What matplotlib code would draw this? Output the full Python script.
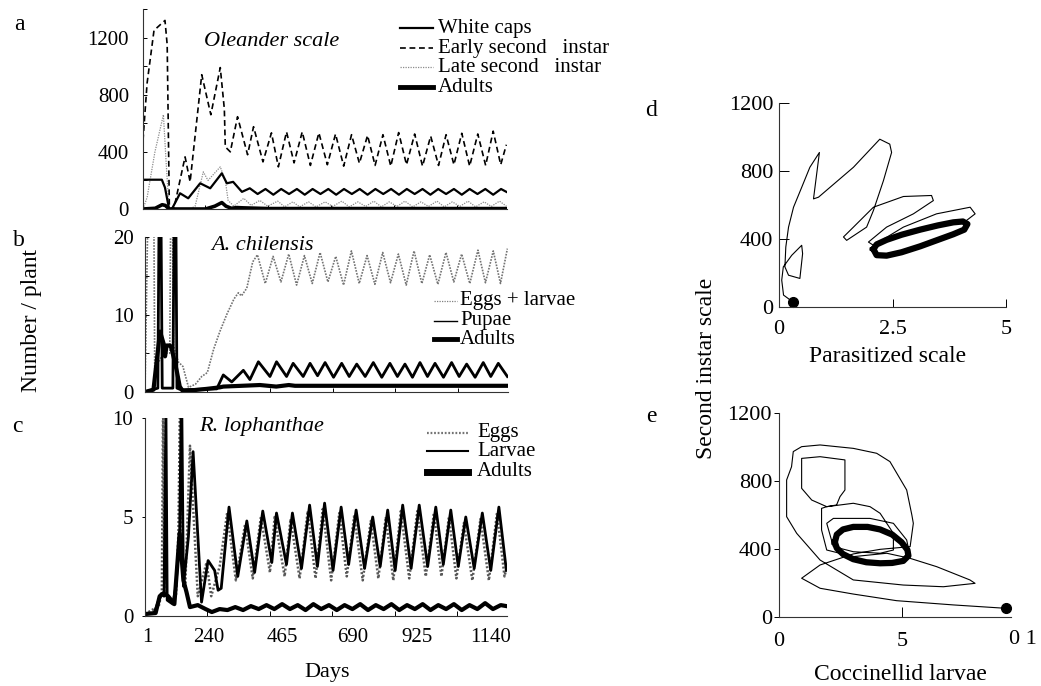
import matplotlib
matplotlib.use("Agg")
import matplotlib.pyplot as plt
from matplotlib.lines import Line2D

plt.rcParams['font.family'] = ['Liberation Serif', 'DejaVu Serif']

W, H = 1041, 686

# ---- a: oleander scale (number / plant by day) ----
a_days_wc = [1, 61, 71, 84, 93, 119, 145, 183, 215, 252, 268, 288, 316,
             341, 366, 391, 416, 441, 466, 491, 516, 541, 566, 591, 616, 641,
             666, 691, 716, 741, 766, 791, 816, 841, 866, 891, 916, 941, 966,
             991, 1016, 1041, 1066, 1091, 1116, 1141, 1158]
a_wc = [205, 205, 150, 0, 0, 110, 75, 180, 145, 250, 180, 190, 120,
        145, 105, 140, 100, 140, 105, 140, 100, 140, 105, 140, 100, 140,
        105, 140, 100, 140, 105, 140, 100, 140, 105, 140, 100, 140, 105,
        140, 100, 140, 105, 140, 100, 140, 120]

a_days_e2 = [1, 14, 36, 61, 71, 78, 85, 100, 135, 151, 188, 217, 247, 260,
             263, 279, 302, 334, 353, 383, 410, 432, 458, 482, 508, 534, 561,
             588, 614, 640, 665, 690, 716, 740, 765, 790, 815, 840, 866, 891,
             917, 942, 966, 991, 1016, 1041, 1067, 1092, 1116, 1140, 1158]
a_e2 = [480, 880, 1250, 1300, 1320, 1150, 0, 10, 365, 190, 940, 660, 990, 700,
        435, 400, 646, 380, 576, 330, 533, 295, 540, 323, 540, 305, 533,
        310, 525, 300, 520, 320, 515, 305, 520, 300, 535, 310, 525, 300,
        510, 305, 520, 310, 530, 300, 525, 305, 545, 310, 450]

a_days_l2 = [1, 14, 39, 66, 74, 84, 151, 167, 193, 208, 247, 263, 272,
             290, 322, 345, 373, 398, 430, 452, 478, 500, 528, 552, 581, 605,
             634, 658, 685, 710, 736, 760, 785, 810, 835, 860, 886, 910, 937,
             960, 986, 1010, 1036, 1060, 1087, 1110, 1136, 1158]
a_l2 = [0, 80, 400, 660, 350, 0, 0, 20, 260, 200, 295, 200, 60,
        20, 75, 25, 60, 20, 55, 15, 50, 15, 50, 15, 50, 18,
        55, 15, 50, 18, 55, 15, 50, 18, 55, 15, 50, 18, 55,
        15, 50, 18, 55, 15, 50, 18, 55, 20]

a_days_ad = [1, 40, 62, 72, 84, 200, 230, 252, 265, 282, 300, 320, 400, 1158]
a_ad = [0, 5, 30, 25, 0, 0, 20, 45, 20, 5, 10, 8, 3, 3]

# ---- b: A. chilensis ----
b_days_el = [1, 17, 27, 32, 60, 80, 86, 92, 107, 122, 140, 162, 182, 200, 220,
             240, 262, 285, 299, 309, 326, 345, 360, 385, 410, 435, 460, 485,
             510, 535, 560, 585, 610, 635, 660, 685, 710, 735, 760, 785, 810,
             835, 860, 885, 910, 936, 962, 987, 1012, 1038, 1064, 1088, 1113,
             1136, 1158]
b_el = [0.3, 40, 40, 3, 5, 5, 40, 6, 3.9, 3.3, 0.6, 1.0, 2.0, 2.5, 5.5,
        7.8, 10.0, 12.0, 12.8, 12.4, 13.4, 16.8, 17.7, 14.0, 17.5, 14.2, 17.8, 13.8,
        17.6, 14.0, 18.0, 14.2, 17.5, 13.8, 18.2, 14.0, 17.6, 13.9, 18.0, 14.1, 17.8,
        13.8, 18.2, 14.0, 17.7, 13.9, 18.0, 14.2, 17.8, 14.0, 18.3, 14.1, 18.2,
        14.0, 18.5]

b_days_pu = [1, 42, 49, 56, 90, 97, 103, 115, 230, 251, 278, 315, 336, 363,
             400, 421, 453, 474, 506, 528, 552, 576, 603, 629, 653, 677, 704,
             730, 757, 783, 807, 831, 855, 879, 903, 927, 954, 980, 1004, 1028,
             1055, 1081, 1105, 1129, 1158]
b_pu = [0, 0.5, 40, 0.5, 0.5, 40, 0.5, 0.3, 0.4, 2.2, 1.3, 2.8, 1.6, 3.9,
        2.0, 3.9, 2.0, 3.7, 2.0, 3.7, 2.1, 3.8, 1.9, 3.7, 2.0, 3.6, 2.0,
        3.8, 1.9, 3.7, 2.0, 3.6, 1.9, 3.8, 2.0, 3.7, 1.9, 3.8, 2.0, 3.6,
        1.9, 3.8, 2.0, 3.7, 2.0]

b_days_ad = [1, 28, 49, 60, 65, 70, 81, 86, 102, 112, 122, 197, 240, 251,
             368, 420, 460, 480, 1158]
b_ad = [0, 0.3, 7.8, 6.3, 4.6, 6.0, 6.0, 5.6, 2.8, 0.7, 0.1, 0.4, 0.6, 0.7,
        0.9, 0.7, 0.9, 0.8, 0.8]

# ---- c: R. lophanthae ----
c_days_eg = [1, 45, 55, 59, 63, 85, 100, 108, 113, 120, 130, 145, 170, 198,
             213, 240, 264, 292, 321, 346, 372, 401, 416, 448, 467, 496, 522,
             547, 570, 597, 623, 647, 671, 698, 724, 748, 772, 796, 820, 847,
             873, 900, 926, 950, 974, 998, 1022, 1049, 1075, 1102, 1128, 1152,
             1158]
c_eg = [0.1, 0.5, 1.2, 11, 1.2, 0.8, 1.0, 4.2, 11, 3.0, 1.5, 8.6, 1.0, 2.7,
        1.0, 2.5, 5.2, 1.8, 4.6, 1.9, 5.0, 2.2, 5.0, 2.0, 4.9, 1.9, 5.3,
        1.9, 5.4, 1.8, 5.2, 2.0, 5.1, 1.8, 4.8, 1.9, 5.0, 1.8, 5.3, 1.9,
        5.3, 2.0, 5.2, 2.0, 5.0, 1.9, 4.7, 1.8, 4.9, 1.8, 5.2, 2.0,
        2.4]

c_days_la = [1, 30, 52, 62, 68, 72, 90, 100, 112, 118, 124, 140, 155, 182,
             203, 224, 235, 245, 270, 298, 327, 352, 378, 407, 422, 454, 473,
             502, 528, 553, 576, 603, 629, 653, 677, 704, 730, 754, 778, 802,
             826, 853, 879, 906, 932, 956, 980, 1004, 1028, 1055, 1081, 1108,
             1134, 1158]
c_la = [0.1, 0.15, 1.1, 1.0, 10.5, 0.8, 0.6, 1.5, 4.2, 12, 1.5, 4.0, 8.3, 0.7,
        2.8, 2.3, 1.3, 1.4, 5.5, 2.0, 4.8, 2.2, 5.3, 2.7, 5.2, 2.6, 5.2,
        2.4, 5.6, 2.5, 5.7, 2.3, 5.5, 2.6, 5.35, 2.4, 5.0, 2.5, 5.35, 2.3,
        5.6, 2.4, 5.6, 2.5, 5.5, 2.6, 5.35, 2.5, 5.0, 2.4, 5.2, 2.3,
        5.5, 2.3]

c_days_ad = [1, 35, 48, 60, 75, 95, 112, 124, 134, 145, 170, 195, 215,
             240, 265, 290, 315, 340, 365, 390, 415, 440, 465, 490, 515, 540,
             565, 590, 615, 640, 665, 690, 715, 740, 765, 790, 815, 840, 865,
             890, 915, 940, 965, 990, 1015, 1040, 1065, 1090, 1115, 1140, 1158]
c_ad = [0.1, 0.15, 1.0, 1.15, 1.0, 0.6, 4.2, 1.8, 1.2, 0.45, 0.55, 0.35, 0.2,
        0.35, 0.3, 0.45, 0.3, 0.5, 0.35, 0.55, 0.35, 0.6, 0.35, 0.55, 0.3, 0.6,
        0.35, 0.55, 0.3, 0.55, 0.35, 0.6, 0.3, 0.55, 0.35, 0.6, 0.3, 0.55, 0.35,
        0.6, 0.3, 0.55, 0.35, 0.6, 0.3, 0.55, 0.35, 0.65, 0.35, 0.55, 0.5]

day_ticks = [200, 400, 600, 800, 1000]
day_label_pos = [7, 205, 442, 665, 873, 1109]
day_labels = ['1', '240', '465', '690', '925', '1140']

# ---- d: parasitized scale vs second instar scale ----
d_path_x = [0.30, 0.10, 0.06, 0.095, 0.28, 0.50, 0.52, 0.46, 0.21, 0.13, 0.15,
            0.21, 0.32, 0.50, 0.68, 0.89, 0.76, 0.87, 1.64, 2.22, 2.44, 2.48,
            2.30, 2.08, 1.93, 1.49, 1.42, 1.64, 2.08, 2.74, 3.36, 3.40, 2.96,
            2.37, 1.97, 2.08, 2.74, 3.47, 4.21, 4.32, 4.13]
d_path_y = [31, 70, 158, 236, 304, 363, 314, 168, 187, 236, 353,
            470, 587, 704, 822, 909, 636, 646, 822, 987, 958, 909,
            743, 568, 470, 392, 412, 470, 587, 650, 656, 626, 548,
            470, 382, 363, 470, 548, 587, 548, 509]
d_cycle_x = [2.08, 2.15, 2.37, 2.70, 3.11, 3.50, 3.84, 4.05, 4.15, 4.08, 3.84,
             3.50, 3.11, 2.70, 2.37, 2.15, 2.08]
d_cycle_y = [340, 368, 395, 425, 455, 480, 498, 503, 488, 455, 428,
             395, 357, 322, 302, 305, 340]

# ---- e: coccinellid larvae vs second instar scale ----
e_path_x = [9.23, 7.09, 4.78, 3.02, 1.67, 0.92, 1.67, 3.02, 4.11, 5.33, 5.46,
            5.40, 5.19, 4.51, 3.97, 3.02, 1.67, 0.92, 0.58, 0.51, 0.31, 0.31,
            0.72, 1.67, 3.02, 5.05, 6.68, 7.97, 7.76, 6.41, 5.33, 4.38, 3.02,
            1.94, 1.73, 1.73, 1.94, 2.34, 2.48, 2.68, 2.68, 1.67, 0.92, 0.92,
            1.33, 1.94, 3.02, 3.70, 4.11, 4.65, 4.65, 4.11, 3.02, 2.21, 1.94,
            2.21, 3.70, 4.65, 5.19, 5.33]
e_path_y = [51, 71, 96, 135, 169, 228, 306, 371, 398, 414, 551,
            600, 747, 914, 963, 992, 1012, 1002, 973, 884, 806, 590,
            492, 335, 218, 188, 178, 198, 218, 296, 345, 375, 355,
            394, 512, 639, 649, 659, 708, 747, 924, 943, 933, 757,
            688, 649, 669, 649, 610, 492, 394, 375, 384, 414, 551,
            580, 580, 551, 453, 355]
e_cycle_x = [2.27, 2.35, 2.60, 3.02, 3.60, 4.11, 4.60, 4.98, 5.22, 5.26, 5.05,
             4.60, 4.11, 3.55, 3.02, 2.60, 2.35, 2.27]
e_cycle_y = [440, 485, 515, 530, 530, 515, 485, 440, 395, 360, 330,
             318, 316, 322, 340, 370, 405, 440]


fig = plt.figure(figsize=(W / 100, H / 100), dpi=100)


def box(l, t, r, b):
    return [l / W, 1 - b / H, (r - l) / W, (b - t) / H]


def frame(ax):
    ax.spines['top'].set_visible(False)
    ax.spines['right'].set_visible(False)
    for s in ('left', 'bottom'):
        ax.spines[s].set_linewidth(0.8)
        ax.spines[s].set_color('0.2')
    ax.patch.set_alpha(0)


def ftext(x, y, s, **kw):
    kw.setdefault('ha', 'center')
    kw.setdefault('va', 'center')
    fig.text(x / W, 1 - y / H, s, **kw)


def key(x0, x1, y, label, tx, size, **style):
    fig.add_artist(Line2D([x0 / W, x1 / W], [1 - y / H, 1 - y / H],
                          transform=fig.transFigure, **style))
    ftext(tx, y, label, ha='left', fontsize=size)


# panel a
ax_a = fig.add_axes(box(143, 9, 507, 209))
frame(ax_a)
ax_a.plot(a_days_l2, a_l2, color='0.55', lw=0.9, ls=(0, (1, 1)))
ax_a.plot(a_days_e2, a_e2, color='k', lw=1.2, ls=(0, (3.5, 2.2)))
ax_a.plot(a_days_ad, a_ad, color='k', lw=2.6)
ax_a.plot(a_days_wc, a_wc, color='k', lw=1.6)
ax_a.set_xlim(1, 1160)
ax_a.set_ylim(0, 1400)
ax_a.set_yticks([0, 400, 800, 1200])
ax_a.set_yticks(range(0, 1401, 200), minor=True)
ax_a.set_xticks([])
ax_a.set_xticks(day_ticks, minor=True)
ax_a.tick_params(which='both', direction='in', length=3, width=0.7,
                 labelsize=15, pad=10)

# panel b
ax_b = fig.add_axes(box(145, 237, 508, 392))
frame(ax_b)
ax_b.plot(b_days_el, b_el, color='0.45', lw=1.2, ls=(0, (1, 0.8)))
ax_b.plot(b_days_ad, b_ad, color='k', lw=3.0)
ax_b.plot(b_days_pu, b_pu, color='k', lw=2.0)
ax_b.set_xlim(1, 1160)
ax_b.set_ylim(0, 20)
ax_b.set_yticks([0, 10, 20])
ax_b.set_yticks([0, 5, 10, 15, 20], minor=True)
ax_b.set_xticks([])
ax_b.set_xticks(day_ticks, minor=True)
ax_b.tick_params(which='both', direction='in', length=3, width=0.7,
                 labelsize=15, pad=8)

# panel c
ax_c = fig.add_axes(box(145, 418, 507, 616))
frame(ax_c)
ax_c.plot(c_days_eg, c_eg, color='0.35', lw=1.8, ls=(0, (0.8, 0.8)))
ax_c.plot(c_days_ad, c_ad, color='k', lw=3.0)
ax_c.plot(c_days_la, c_la, color='k', lw=2.0)
ax_c.set_xlim(1, 1160)
ax_c.set_ylim(0, 10)
ax_c.set_yticks([0, 5, 10])
ax_c.tick_params(axis='y', direction='out', length=2.5, width=0.7,
                 labelsize=15, pad=6)
ax_c.set_xticks(day_label_pos)
ax_c.set_xticklabels(day_labels)
ax_c.set_xticks(day_ticks, minor=True)
ax_c.tick_params(axis='x', which='major', length=0, labelsize=15, pad=9)
ax_c.tick_params(axis='x', which='minor', direction='in', length=3.5, width=0.7)

# panel d
ax_d = fig.add_axes(box(779, 103, 1006, 307))
frame(ax_d)
ax_d.plot(d_path_x, d_path_y, color='k', lw=0.8)
ax_d.plot(d_cycle_x, d_cycle_y, color='k', lw=4.5, solid_joinstyle='round')
ax_d.plot([d_path_x[0]], [d_path_y[0]], 'o', color='k', ms=7, clip_on=False)
ax_d.set_xlim(0, 5)
ax_d.set_ylim(0, 1200)
ax_d.set_xticks([0, 2.5, 5])
ax_d.set_xticklabels(['0', '2.5', '5'])
ax_d.set_yticks([0, 400, 800, 1200])
ax_d.tick_params(axis='x', direction='in', length=6, width=0.7,
                 labelsize=16, pad=9)
ax_d.tick_params(axis='y', direction='in', length=7, width=0.7,
                 labelsize=16, pad=4)

# panel e
ax_e = fig.add_axes(box(779, 413, 1011, 617))
frame(ax_e)
ax_e.plot(e_path_x, e_path_y, color='k', lw=0.8)
ax_e.plot(e_cycle_x, e_cycle_y, color='k', lw=4.5, solid_joinstyle='round')
ax_e.plot([e_path_x[0]], [e_path_y[0]], 'o', color='k', ms=7, clip_on=False)
ax_e.set_xlim(0, 9.43)
ax_e.set_ylim(0, 1200)
ax_e.set_xticks([0, 5])
ax_e.set_yticks([0, 400, 800, 1200])
ax_e.tick_params(axis='x', direction='in', length=7, width=0.7,
                 labelsize=16, pad=11)
ax_e.tick_params(axis='y', direction='out', length=3.5, width=0.7,
                 labelsize=16, pad=1.5)
ftext(1023, 640, '0 1', fontsize=16)

# legends
key(400, 433, 28, 'White caps', 438, 15, color='k', lw=1.6)
key(400, 433, 48, 'Early second   instar', 438, 15, color='k', lw=1.2,
    ls=(0, (3.5, 2.2)))
key(400, 433, 67, 'Late second   instar', 438, 15, color='0.55', lw=0.9,
    ls=(0, (1, 1)))
key(400, 433, 87, 'Adults', 438, 15, color='k', lw=3.5)

key(434, 457, 301, 'Eggs + larvae', 460, 15, color='0.5', lw=0.9,
    ls=(0, (1, 1)))
key(434, 457, 321, 'Pupae', 460, 15, color='k', lw=1.0)
key(434, 457, 339, 'Adults', 460, 15, color='k', lw=3.5)

key(427, 468, 433, 'Eggs', 477, 15, color='0.45', lw=1.6, ls=(0, (0.8, 0.8)))
key(427, 468, 451, 'Larvae', 477, 15, color='k', lw=1.5)
key(427, 468, 472, 'Adults', 477, 15, color='k', lw=5)

# titles, panel letters and axis names
ftext(272, 42, 'Oleander scale', fontsize=16, style='italic')
ftext(262, 245, 'A. chilensis', fontsize=16, style='italic')
ftext(262, 427, 'R. lophanthae', fontsize=16, style='italic')

for letter, lx, ly in [('a', 19, 25), ('b', 19, 240), ('c', 17, 427),
                       ('d', 651, 110), ('e', 651, 417)]:
    ftext(lx, ly, letter, fontsize=17)

ftext(32, 320, 'Number / plant', fontsize=17, rotation=90)
ftext(327, 673, 'Days', fontsize=16)
ftext(888, 357, 'Parasitized scale', fontsize=17)
ftext(900, 675, 'Coccinellid larvae', fontsize=17)
ftext(706, 368, 'Second instar scale', fontsize=17, rotation=90)

fig.savefig('out.png', dpi=100)
